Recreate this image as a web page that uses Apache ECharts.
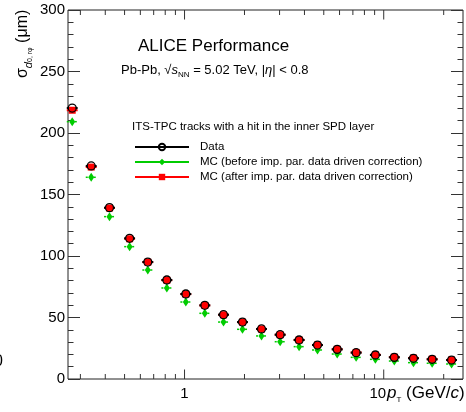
<!DOCTYPE html>
<html>
<head>
<meta charset="utf-8">
<script src="https://cdn.jsdelivr.net/npm/echarts@6/dist/echarts.min.js"></script>
<style>
  html, body { margin: 0; padding: 0; background: #fff; }
  #chart { width: 466px; height: 412px; }
</style>
</head>
<body>
<div id="chart"></div>
<script>
// pT bin centres (GeV/c)
var ptValues = [0.273, 0.340, 0.420, 0.530, 0.654, 0.815, 1.015, 1.264, 1.569, 1.954,
    2.434, 3.02, 3.76, 4.65, 5.84, 7.27, 9.08, 11.3, 14.1, 17.5, 21.9];

// sigma d0 (um)
var dataValues = [220.3, 173.2, 139.3, 114.4, 95.1, 80.5, 69.1, 59.9, 52.3, 46.3,
    40.7, 36.0, 31.7, 27.6, 24.1, 21.4, 19.5, 17.6, 16.8, 16.0, 15.4];
var mcBeforeValues = [209.2, 164.0, 132.0, 107.6, 88.6, 74.0, 62.6, 53.4, 46.3, 40.4,
    35.0, 30.3, 26.3, 23.6, 20.3, 17.6, 16.0, 14.6, 13.3, 12.8, 12.2];
var mcAfterValues = [218.5, 172.3, 139.0, 114.0, 95.0, 80.3, 69.0, 59.8, 52.2, 46.2,
    40.6, 36.0, 31.8, 27.7, 24.2, 21.6, 19.7, 17.8, 17.1, 16.1, 15.5];

// x axis tick marks and labels
var xMajorTicks = [1, 10];
var xMinorTicks = [0.3, 0.4, 0.5, 0.6, 0.7, 0.8, 0.9, 2, 3, 4, 5, 6, 7, 8, 9, 20];
var xMin = 0.26, xMax = 25;
var yMin = 0, yMax = 300;

var xErrFrac = 0.065;
var font = 'Liberation Sans, Arial, Helvetica, sans-serif';

function pairs(ys) {
    return ptValues.map(function (x, i) { return [x, ys[i]]; });
}

function errorBarSeries(name, ys, color, dash, width) {
    return {
        name: name + ' err',
        type: 'custom',
        data: pairs(ys),
        silent: true,
        renderItem: function (params, api) {
            var x = api.value(0), y = api.value(1);
            var a = api.coord([x / (1 + xErrFrac), y]);
            var b = api.coord([x * (1 + xErrFrac), y]);
            return {
                type: 'line',
                shape: { x1: a[0], y1: a[1], x2: b[0], y2: b[1] },
                style: { stroke: color, lineWidth: width, lineDash: dash }
            };
        }
    };
}

function markerSeries(name, ys, color, symbol, size, itemStyle) {
    return {
        name: name,
        type: 'line',
        data: pairs(ys),
        color: color,
        symbol: symbol,
        symbolSize: size,
        showSymbol: true,
        lineStyle: { opacity: 0, width: 0 },
        itemStyle: itemStyle,
        emphasis: { disabled: true }
    };
}

var tickData = xMajorTicks.map(function (v) { return [v, 1]; })
    .concat(xMinorTicks.map(function (v) { return [v, 0]; }));

var chart = echarts.init(document.getElementById('chart'));

var options = {
    animation: false,
    textStyle: { fontFamily: font },
    grid: {
        left: 68, right: 2, top: 10, bottom: 33,
        show: true, borderColor: '#222', borderWidth: 1, backgroundColor: 'transparent'
    },
    xAxis: {
        type: 'log',
        logBase: 10,
        min: xMin,
        max: xMax,
        axisLine: { show: false },
        axisTick: { show: false },
        splitLine: { show: false },
        minorTick: { show: false },
        axisLabel: {
            color: '#000',
            fontSize: 15,
            margin: 7,
            formatter: function (v) {
                if (Math.abs(v - 1) < 1e-6) return '1';
                if (Math.abs(v - 10) < 1e-6) return '{s|10}';
                return '';
            },
            rich: { s: { fontSize: 15, color: '#000', padding: [0, 12, 0, 0] } }
        }
    },
    yAxis: [
        {
            type: 'value',
            min: yMin, max: yMax, interval: 50,
            axisLine: { show: false },
            axisTick: { show: true, inside: true, length: 12, lineStyle: { color: '#333' } },
            minorTick: { show: true, splitNumber: 5, length: 5.5, lineStyle: { color: '#333' } },
            splitLine: { show: false },
            axisLabel: { color: '#000', fontSize: 15, margin: 3 }
        },
        {
            type: 'value',
            position: 'right',
            min: yMin, max: yMax, interval: 50,
            axisLine: { show: false },
            axisTick: { show: true, inside: true, length: 12, lineStyle: { color: '#333' } },
            minorTick: { show: true, splitNumber: 5, length: 5.5, lineStyle: { color: '#333' } },
            splitLine: { show: false },
            axisLabel: { show: false }
        }
    ],
    legend: {
        orient: 'vertical',
        left: 129,
        top: 136,
        itemWidth: 54,
        itemHeight: 8,
        itemGap: 3,
        selectedMode: false,
        data: [
            { name: 'Data', lineStyle: { color: '#000', width: 2, opacity: 1 } },
            { name: 'MC (before imp. par. data driven correction)', lineStyle: { color: '#00cc00', width: 2, opacity: 1 } },
            { name: 'MC (after imp. par. data driven correction)', lineStyle: { color: '#ff0000', width: 2, opacity: 1 } }
        ],
        textStyle: { color: '#000', fontSize: 11.5, fontFamily: font, padding: [0, 0, 0, 6] }
    },
    graphic: [
        {
            type: 'text', left: 138, top: 38,
            style: { text: 'ALICE Performance', fill: '#000', font: '17px ' + font }
        },
        {
            type: 'text', left: 121, top: 61,
            style: {
                text: 'Pb-Pb, {r|√}{i|s}{sub|NN} = 5.02 TeV, |{i|η}| < 0.8',
                fill: '#000', fontSize: 13, fontFamily: font, lineHeight: 18,
                rich: {
                    r: { fontSize: 13, fontFamily: font, lineHeight: 18 },
                    i: { fontSize: 13, fontStyle: 'italic', fontFamily: font, lineHeight: 18 },
                    sub: { fontSize: 8, fontFamily: font, lineHeight: 12, verticalAlign: 'bottom' }
                }
            }
        },
        {
            type: 'text', left: 132, top: 121,
            style: {
                text: 'ITS-TPC tracks with a hit in the inner SPD layer',
                fill: '#000', font: '11.5px ' + font
            }
        },
        {
            type: 'text', left: 387, top: 382,
            style: {
                text: '{i|p}{sub|T} (GeV/{i|c})',
                fill: '#000', fontSize: 17, fontFamily: font, lineHeight: 22,
                rich: {
                    i: { fontSize: 17, fontStyle: 'italic', fontFamily: font, lineHeight: 22 },
                    sub: { fontSize: 8, fontFamily: font, lineHeight: 12, verticalAlign: 'bottom' }
                }
            }
        },
        {
            type: 'text', x: 12, y: 78, rotation: Math.PI / 2,
            style: {
                text: 'σ{d|d}{dd|0, rφ} (μm)',
                fill: '#000', fontSize: 16, fontFamily: font, lineHeight: 22,
                rich: {
                    d: { fontSize: 11, fontStyle: 'italic', fontFamily: font, lineHeight: 14, verticalAlign: 'bottom' },
                    dd: { fontSize: 7, fontFamily: font, lineHeight: 8, verticalAlign: 'bottom' }
                }
            }
        },
        {
            type: 'text', left: -6, top: 354,
            style: { text: '0', fill: '#000', font: '16px ' + font }
        }
    ],
    series: [
        {
            name: 'ticks',
            type: 'custom',
            data: tickData,
            silent: true,
            renderItem: function (params, api) {
                var v = api.value(0);
                var len = api.value(1) ? 9.5 : 5;
                var bot = api.coord([v, yMin]);
                var top = api.coord([v, yMax]);
                var st = { stroke: '#333', lineWidth: 1 };
                return {
                    type: 'group',
                    children: [
                        { type: 'line', shape: { x1: bot[0], y1: bot[1], x2: bot[0], y2: bot[1] - len }, style: st },
                        { type: 'line', shape: { x1: top[0], y1: top[1], x2: top[0], y2: top[1] + len }, style: st }
                    ]
                };
            }
        },
        errorBarSeries('MC (before imp. par. data driven correction)', mcBeforeValues, '#00cc00', [2, 2], 1.5),
        markerSeries('MC (before imp. par. data driven correction)', mcBeforeValues, '#00cc00', 'diamond', [6, 9],
            { color: '#00cc00' }),
        errorBarSeries('MC (after imp. par. data driven correction)', mcAfterValues, '#ff0000', null, 2),
        markerSeries('MC (after imp. par. data driven correction)', mcAfterValues, '#ff0000', 'rect', 7,
            { color: '#ff0000' }),
        errorBarSeries('Data', dataValues, '#000', null, 2),
        markerSeries('Data', dataValues, '#000', 'circle', 8,
            { color: 'rgba(0,0,0,0)', borderColor: '#000', borderWidth: 1.3 })
    ]
};

chart.setOption(options);
window.addEventListener('resize', function () {
    chart.resize();
});
</script>
</body>
</html>
